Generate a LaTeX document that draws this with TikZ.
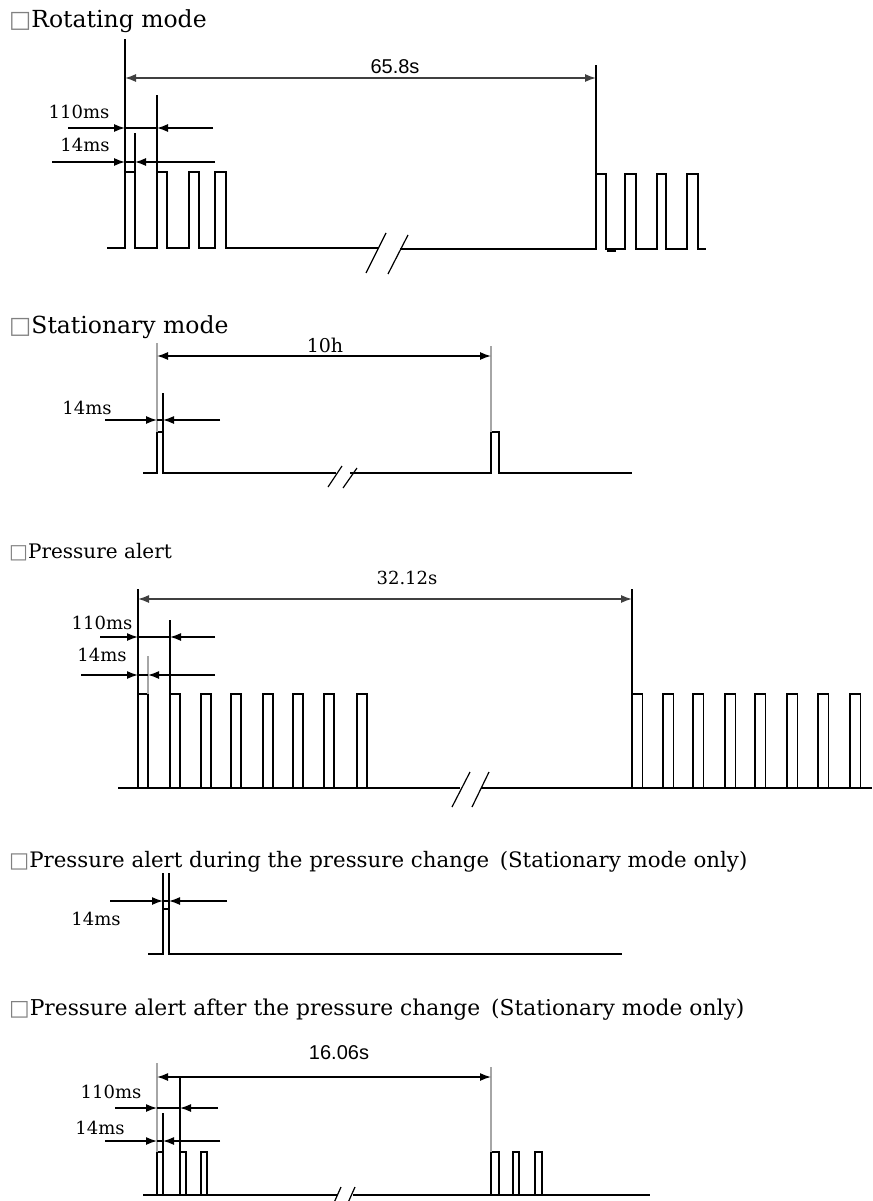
\documentclass[tikz,border=0pt]{standalone}
\usepackage{fontspec}
\setmainfont{DejaVu Serif}
\newfontfamily\labsans{Liberation Sans}
\newfontfamily\boxfont{DejaVu Sans}
\usetikzlibrary{arrows.meta}

\newcommand{\ttlbox}{{\boxfont\color{gray}\char"25A1}}

\tikzset{
  wave/.style={line width=1.6pt},
  markline/.style={line width=1.4pt},
  dimline/.style={line width=1.4pt},
  tip/.style={-{Latex[length=11pt,width=8pt]}},
  bothtips/.style={{Latex[length=11pt,width=8pt]}-{Latex[length=11pt,width=8pt]}},
  brk/.style={line width=1.2pt},
  ttl/.style={anchor=base west, inner sep=0pt, font=\fontsize{23.5}{23.5}\selectfont},
  lab/.style={inner sep=0pt, font=\fontsize{18}{18}\selectfont},
  sanslab/.style={inner sep=0pt, font=\labsans\fontsize{20}{20}\selectfont},
}

\begin{document}
\begin{tikzpicture}[x=1pt,y=-1pt]
  \useasboundingbox (0,0) rectangle (872,1201);

  % rotating mode
  \node[ttl] (t1) at (9,28) {\ttlbox Rotating mode};
  \draw[wave] (107,248) -| (125,172) -| (135,248) -| (157,172) -| (167,248)
    -| (189,172) -| (199,248) -| (215,172) -| (226,248) -- (378,248);
  \draw[wave] (400,249) -| (596,174) -| (606,249) -| (625,174) -| (636,249)
    -| (657,174) -| (666,249) -| (687,174) -| (698,249) -- (706,249);
  \draw[line width=2pt] (607,250.5) -- (616,250.5);
  \draw[brk] (366,273) -- (386,233);
  \draw[brk] (388,274) -- (408,235);
  \coordinate (ra) at (125,39);
  \coordinate (rb) at (596,65);
  \draw[markline] (125,172) -- (ra);
  \draw[markline] (135,172) -- (135,133);
  \draw[markline] (157,172) -- (157,95);
  \draw[markline] (596,174) -- (rb);
  \draw[dimline, bothtips, black!75] (125,78) -- (596,78);
  \node[sanslab] (l1) at (395,67) {65.8s};
  \draw[dimline, tip] (68,128) -- (125,128);
  \draw[dimline] (125,128) -- (157,128);
  \draw[dimline, tip] (213,128) -- (157,128);
  \draw[dimline, tip] (52,162) -- (125,162);
  \draw[dimline] (125,162) -- (135,162);
  \draw[dimline, tip] (215,162) -- (135,162);
  \node[lab] (l2) at (79,112) {110ms};
  \node[lab] (l3) at (85,145) {14ms};

  % stationary mode
  \node[ttl] (t2) at (9,333) {\ttlbox Stationary mode};
  \draw[wave] (143,473) -| (157,432) -| (163,473) -- (336,473);
  \draw[wave] (350,473) -| (491,432) -| (499,473) -- (632,473);
  \draw[brk] (328,487) -- (342,466);
  \draw[brk] (343,488) -- (357,468);
  \draw[markline, gray!70] (157,432) -- (157,343);
  \draw[markline] (163,432) -- (163,393);
  \draw[markline, gray!70] (491,432) -- (491,346);
  \draw[dimline, bothtips] (157,356) -- (491,356);
  \node[lab, font=\fontsize{19}{19}\selectfont] (l4) at (325,345) {10h};
  \draw[dimline, tip] (105,420) -- (157,420);
  \draw[dimline] (157,420) -- (163,420);
  \draw[dimline, tip] (220,420) -- (163,420);
  \node[lab] (l5) at (87,408) {14ms};

  % pressure alert
  \node[ttl, font=\fontsize{20}{20}\selectfont] (t3) at (9,558) {\ttlbox Pressure alert};
  \draw[wave] (118,788) -- (460,788);
  \draw[wave] (481,788) -- (872,788);
  \foreach \x in {138,170,201,231,263,293,324,357}
    \draw[wave] (\x,788) -- ++(0,-94) -- ++(10,0) -- ++(0,94);
  \foreach \x in {632,663,693,725,755,787,818,850}
    \draw[wave] (\x,788) -- ++(0,-94) -- ++(10.5,0) -- ++(0,94);
  \draw[brk] (452,807) -- (470,772);
  \draw[brk] (472,807) -- (489,772);
  \draw[markline] (138,694) -- (138,589);
  \draw[markline, gray!70] (148,694) -- (148,656);
  \draw[markline] (170,694) -- (170,620);
  \draw[markline] (632,694) -- (632,589);
  \draw[dimline, bothtips, black!75] (138,599) -- (632,599);
  \node[lab] (l6) at (407,578) {32.12s};
  \draw[dimline, tip] (100,637) -- (138,637);
  \draw[dimline] (138,637) -- (170,637);
  \draw[dimline, tip] (215,637) -- (170,637);
  \draw[dimline, tip] (81,675) -- (138,675);
  \draw[dimline] (138,675) -- (148,675);
  \draw[dimline, tip] (215,675) -- (148,675);
  \node[lab] (l7) at (102,623) {110ms};
  \node[lab] (l8) at (102,655) {14ms};

  % pressure alert during the pressure change
  \node[ttl, font=\fontsize{21.3}{21.3}\selectfont] (t4) at (9,867)
    {\ttlbox Pressure alert during the pressure change\enspace(Stationary mode only)};
  \draw[wave] (148,954) -| (163,909) -| (169,954) -- (622,954);
  \draw[markline] (163,909) -- (163,873);
  \draw[markline] (169,909) -- (169,873);
  \draw[dimline, tip] (110,901) -- (163,901);
  \draw[dimline] (163,901) -- (169,901);
  \draw[dimline, tip] (227,901) -- (169,901);
  \node[lab] (l9) at (96,919) {14ms};

  % pressure alert after the pressure change
  \node[ttl, font=\fontsize{21.8}{21.8}\selectfont] (t5) at (9,1015)
    {\ttlbox Pressure alert after the pressure change\enspace(Stationary mode only)};
  \draw[wave] (143,1195) -- (337,1195);
  \draw[wave] (353,1195) -- (650,1195);
  \foreach \x/\w in {157/6,180/6,201/6,491/8,513/6,535/7}
    \draw[wave] (\x,1195) -- ++(0,-43) -- ++(\w,0) -- ++(0,43);
  \draw[brk] (333,1205) -- (341,1187);
  \draw[brk] (347,1205) -- (355,1187);
  \draw[markline, gray!70] (157,1152) -- (157,1063);
  \draw[markline] (163,1152) -- (163,1113);
  \draw[markline] (180,1152) -- (180,1077);
  \draw[markline, gray!70] (491,1152) -- (491,1067);
  \draw[dimline, bothtips] (157,1077) -- (491,1077);
  \node[sanslab] (l10) at (339,1053) {16.06s};
  \draw[dimline, tip] (115,1108) -- (157,1108);
  \draw[dimline] (157,1108) -- (180,1108);
  \draw[dimline, tip] (218,1108) -- (180,1108);
  \draw[dimline, tip] (105,1141) -- (157,1141);
  \draw[dimline] (157,1141) -- (163,1141);
  \draw[dimline, tip] (220,1141) -- (163,1141);
  \node[lab] (l11) at (111,1092) {110ms};
  \node[lab] (l12) at (100,1128) {14ms};
\end{tikzpicture}
\end{document}
